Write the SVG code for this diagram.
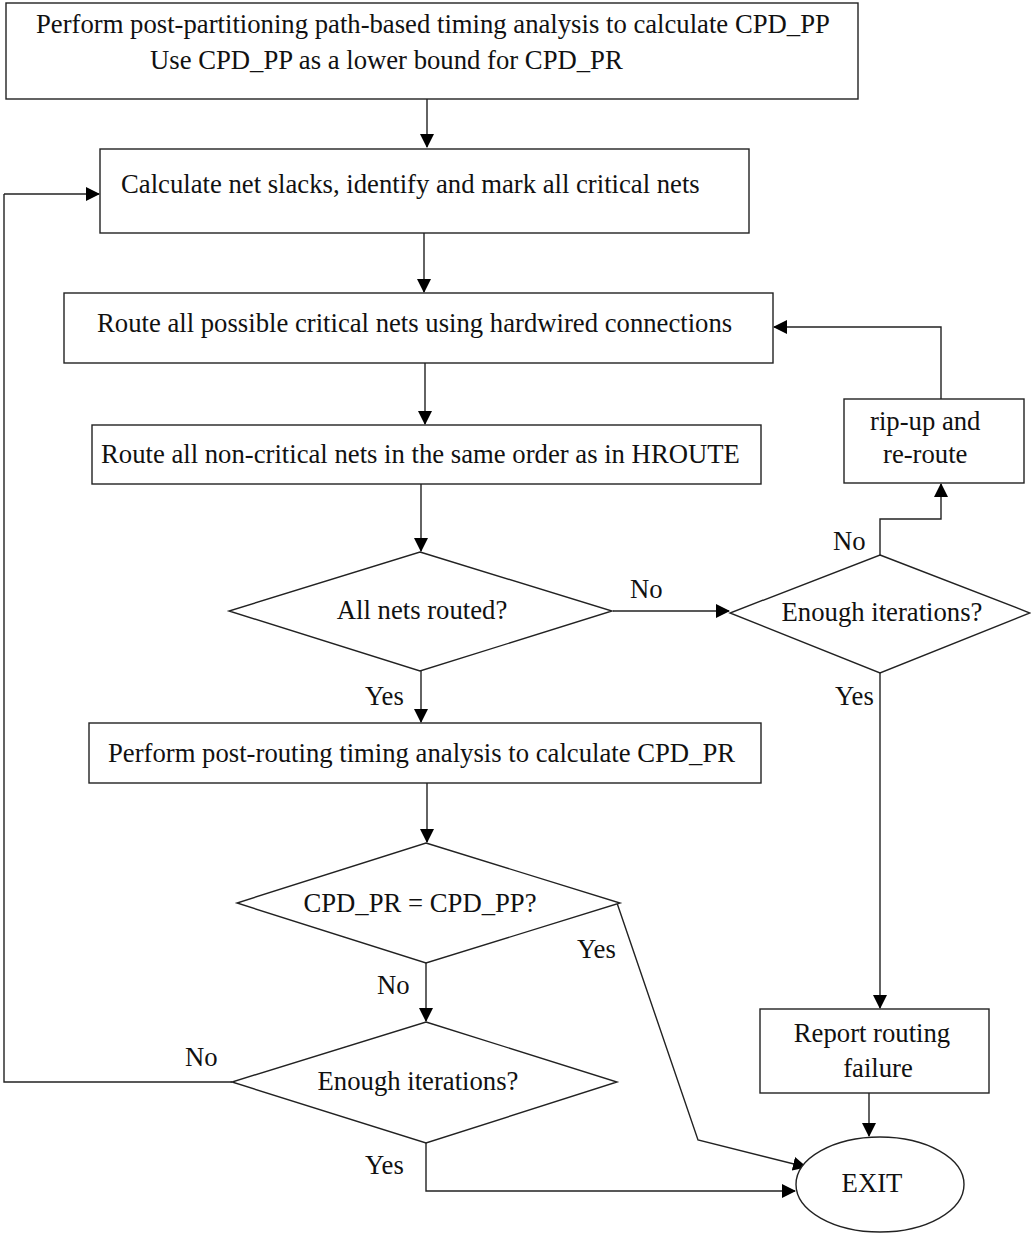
<svg xmlns="http://www.w3.org/2000/svg" width="1031" height="1234" viewBox="0 0 1031 1234">
<style>
.b{fill:#fff;stroke:#222;stroke-width:1.4}
.t{font-family:"Liberation Serif","Times New Roman",serif;font-size:26.7px;fill:#111}
.m{text-anchor:middle}
.c{fill:none;stroke:#222;stroke-width:1.4}
</style>
<defs>
<marker id="a" markerUnits="userSpaceOnUse" markerWidth="14" markerHeight="14" viewBox="0 0 14 14" refX="13" refY="7" orient="auto">
<path d="M0,0 L14,7 L0,14 Z" fill="#000"/>
</marker>
</defs>
<rect width="1031" height="1234" fill="#fff"/>
<g id="connectors">
<path class="c" d="M427,99 V147" marker-end="url(#a)"/>
<path class="c" d="M4,194 H99" marker-end="url(#a)"/>
<path class="c" d="M424,233 V292" marker-end="url(#a)"/>
<path class="c" d="M941,399 V327 H774" marker-end="url(#a)"/>
<path class="c" d="M425,363 V424" marker-end="url(#a)"/>
<path class="c" d="M421,484 V551" marker-end="url(#a)"/>
<path class="c" d="M613,611 H729" marker-end="url(#a)"/>
<path class="c" d="M880,555 V519 H941 V484" marker-end="url(#a)"/>
<path class="c" d="M421,671 V722" marker-end="url(#a)"/>
<path class="c" d="M427,783 V842" marker-end="url(#a)"/>
<path class="c" d="M426,963 V1021" marker-end="url(#a)"/>
<path class="c" d="M232,1082 H4 V194"/>
<path class="c" d="M426,1143 V1191 H795" marker-end="url(#a)"/>
<path class="c" d="M617,903 L698,1140 L806,1167" marker-end="url(#a)"/>
<path class="c" d="M880,673 V1008" marker-end="url(#a)"/>
<path class="c" d="M869,1093 V1136" marker-end="url(#a)"/>
</g>
<g id="n1">
<rect class="b" x="6" y="3" width="852" height="96"/>
<text class="t" x="36" y="33">Perform post-partitioning path-based timing analysis to calculate CPD_PP</text>
<text class="t" x="150" y="69">Use CPD_PP as a lower bound for CPD_PR</text>
</g>
<g id="n2">
<rect class="b" x="100" y="149" width="649" height="84"/>
<text class="t" x="121" y="193">Calculate net slacks, identify and mark all critical nets</text>
</g>
<g id="n3">
<rect class="b" x="64" y="293" width="709" height="70"/>
<text class="t" x="97" y="332">Route all possible critical nets using hardwired connections</text>
</g>
<g id="n4">
<rect class="b" x="92" y="425" width="669" height="59"/>
<text class="t" x="101" y="463">Route all non-critical nets in the same order as in HROUTE</text>
</g>
<g id="n5">
<polygon class="b" points="420,552 612,611 420,671 229,611"/>
<text class="t m" x="422" y="619">All nets routed?</text>
</g>
<g id="n6">
<polygon class="b" points="880,555 1030,613 880,673 730,613"/>
<text class="t m" x="882" y="621">Enough iterations?</text>
</g>
<g id="n7">
<rect class="b" x="844" y="399" width="180" height="84"/>
<text class="t" x="870" y="430">rip-up and</text>
<text class="t" x="883" y="463">re-route</text>
</g>
<g id="n8">
<rect class="b" x="89" y="723" width="672" height="60"/>
<text class="t" x="108" y="762">Perform post-routing timing analysis to calculate CPD_PR</text>
</g>
<g id="n9">
<polygon class="b" points="426,843 620,903 426,963 237,903"/>
<text class="t m" x="420" y="912">CPD_PR = CPD_PP?</text>
</g>
<g id="n10">
<polygon class="b" points="426,1022 617,1082 426,1143 232,1082"/>
<text class="t m" x="418" y="1090">Enough iterations?</text>
</g>
<g id="n11">
<rect class="b" x="760" y="1009" width="229" height="84"/>
<text class="t m" x="872" y="1042">Report routing</text>
<text class="t m" x="878" y="1077">failure</text>
</g>
<g id="n12">
<ellipse class="b" cx="880" cy="1184.5" rx="84" ry="47.5"/>
<text class="t m" x="872" y="1192">EXIT</text>
</g>
<g id="labels">
<text class="t" x="630" y="598">No</text>
<text class="t" x="833" y="550">No</text>
<text class="t" x="365" y="705">Yes</text>
<text class="t" x="835" y="705">Yes</text>
<text class="t" x="577" y="958">Yes</text>
<text class="t" x="377" y="994">No</text>
<text class="t" x="185" y="1066">No</text>
<text class="t" x="365" y="1174">Yes</text>
</g>
</svg>
